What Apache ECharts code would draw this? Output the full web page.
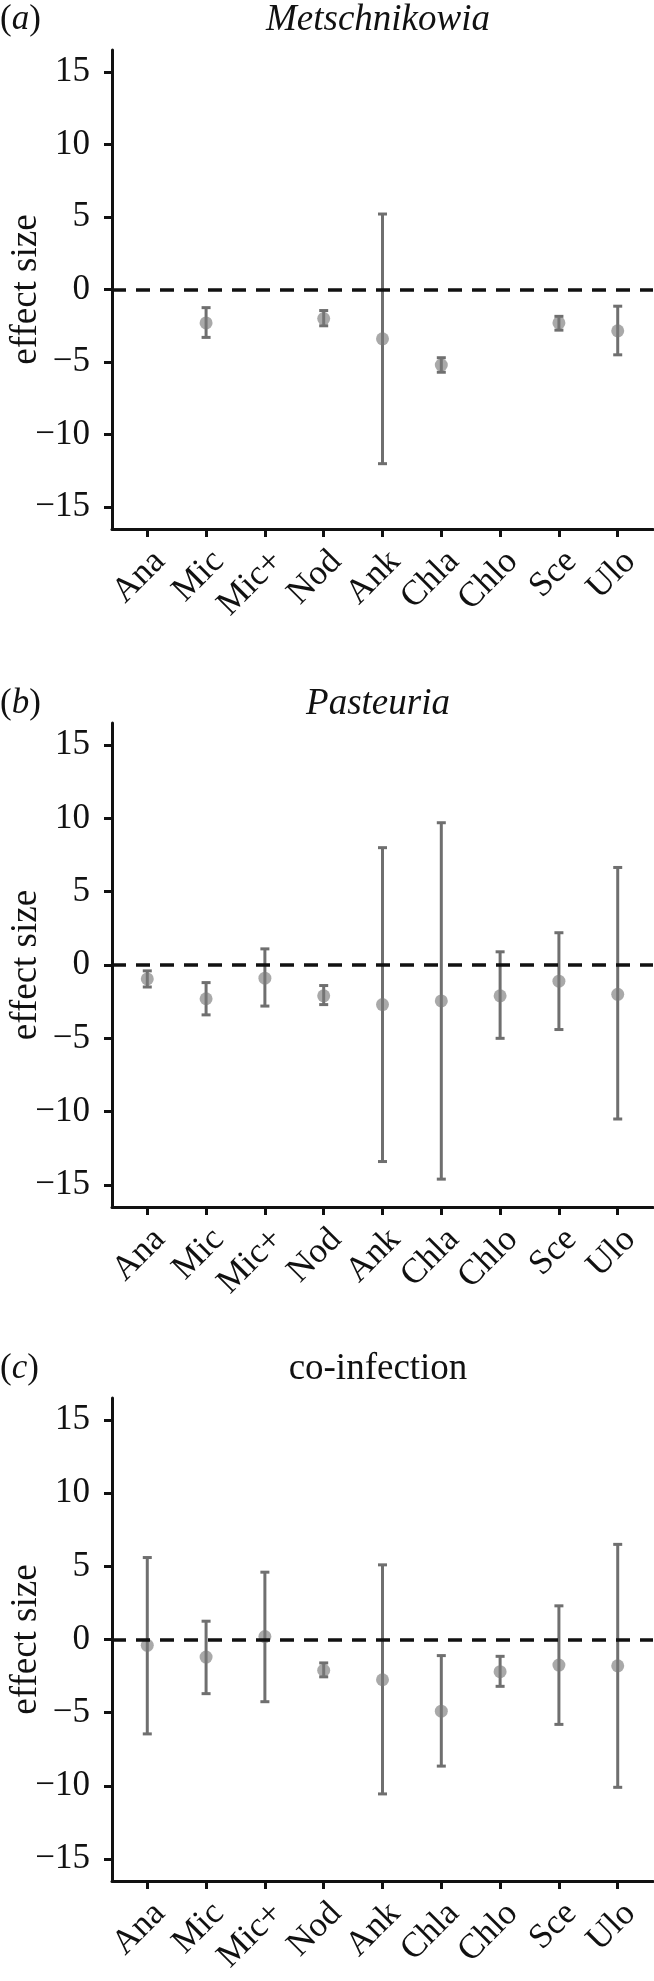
<!DOCTYPE html>
<html>
<head>
<meta charset="utf-8">
<script src="https://cdn.jsdelivr.net/npm/echarts@6/dist/echarts.min.js"></script>
<style>
html,body{margin:0;padding:0;background:#fff;}
#chart{width:654px;height:1981px;}
</style>
</head>
<body>
<div id="chart"></div>
<script>
// ---- data ----
const categories = ['Ana','Mic','Mic+','Nod','Ank','Chla','Chlo','Sce','Ulo'];
const yTicks = [-15,-10,-5,0,5,10,15];

const metMean = [null,-2.3,null,-2.0,-3.4,-5.2,null,-2.3,-2.85];
const metLow  = [null,-3.3,null,-2.5,-12.0,-5.7,null,-2.8,-4.5];
const metHigh = [null,-1.25,null,-1.45,5.2,-4.7,null,-1.85,-1.15];

const pasMean = [-0.95,-2.3,-0.9,-2.1,-2.7,-2.45,-2.1,-1.1,-2.0];
const pasLow  = [-1.5,-3.4,-2.8,-2.7,-13.4,-14.6,-5.0,-4.4,-10.5];
const pasHigh = [-0.4,-1.2,1.1,-1.4,8.0,9.7,0.9,2.2,6.65];

const coMean = [-0.4,-1.2,0.2,-2.1,-2.75,-4.9,-2.2,-1.75,-1.8];
const coLow  = [-6.45,-3.7,-4.25,-2.55,-10.55,-8.65,-3.2,-5.8,-10.1];
const coHigh = [5.6,1.25,4.6,-1.6,5.1,-1.1,-1.15,2.3,6.5];

const panelLetters = ['a','b','c'];
const panelTitles = ['Metschnikowia','Pasteuria','co-infection'];
const yAxisName = 'effect size';

// ---- layout ----
const FONT = '"Liberation Serif","DejaVu Serif",serif';
const panels = [
  {mean: metMean, low: metLow, high: metHigh, top: 50, height: 479, titleTop: 2, italic: true},
  {mean: pasMean, low: pasLow, high: pasHigh, top: 723, height: 484, titleTop: 686, italic: true},
  {mean: coMean, low: coLow, high: coHigh, top: 1398, height: 483, titleTop: 1351, italic: false}
];
const idx = categories.map((c, i) => i);

function renderBar(params, api) {
  const x = api.value(0), lo = api.value(1), hi = api.value(2);
  const p1 = api.coord([x, lo]), p2 = api.coord([x, hi]);
  const w = 4.5;
  const style = {stroke: '#6f6f6f', lineWidth: 3};
  return {type: 'group', children: [
    {type: 'line', shape: {x1: p1[0], y1: p1[1], x2: p2[0], y2: p2[1]}, style: style},
    {type: 'line', shape: {x1: p1[0] - w, y1: p1[1], x2: p1[0] + w, y2: p1[1]}, style: style},
    {type: 'line', shape: {x1: p2[0] - w, y1: p2[1], x2: p2[0] + w, y2: p2[1]}, style: style}
  ]};
}

const grids = [], xAxes = [], yAxes = [], series = [], titles = [];
panels.forEach((p, k) => {
  grids.push({left: 112, right: 1, top: p.top, height: p.height, containLabel: false, outerBoundsMode: 'none'});
  xAxes.push({
    type: 'value', gridIndex: k, min: -0.6, max: 8.6,
    splitLine: {show: false},
    axisLine: {show: true, onZero: false, lineStyle: {color: '#111', width: 3}},
    axisTick: {show: true, length: 8, customValues: idx, lineStyle: {color: '#111', width: 3}},
    axisLabel: {
      customValues: idx, rotate: 45, margin: 15, align: 'right', verticalAlign: 'top',
      fontFamily: FONT, fontSize: 35, color: '#111',
      formatter: v => categories[Math.round(v)]
    }
  });
  yAxes.push({
    type: 'value', gridIndex: k, min: -16.5, max: 16.5,
    name: yAxisName, nameLocation: 'middle', nameGap: 67, nameRotate: 90,
    nameMoveOverlap: false,
    nameTextStyle: {fontFamily: FONT, fontSize: 37, color: '#111'},
    splitLine: {show: false},
    axisLine: {show: true, onZero: false, lineStyle: {color: '#111', width: 3}},
    axisTick: {show: true, length: 8, customValues: yTicks, lineStyle: {color: '#111', width: 3}},
    axisLabel: {
      customValues: yTicks, margin: 22,
      fontFamily: FONT, fontSize: 35, color: '#111',
      formatter: v => (v < 0 ? '\u2212' + Math.abs(v) : String(v))
    }
  });
  const barData = [], ptData = [];
  categories.forEach((c, i) => {
    if (p.mean[i] !== null) {
      barData.push([i, p.low[i], p.high[i]]);
      ptData.push([i, p.mean[i]]);
    }
  });
  series.push({
    type: 'custom', xAxisIndex: k, yAxisIndex: k,
    renderItem: renderBar, data: barData, encode: {x: 0, y: [1, 2]}, z: 3
  });
  series.push({
    type: 'scatter', xAxisIndex: k, yAxisIndex: k, data: ptData,
    symbol: 'circle', symbolSize: 13,
    itemStyle: {color: 'rgba(120,120,120,0.8)'}, z: 4,
    markLine: {
      silent: true, symbol: 'none', label: {show: false},
      lineStyle: {color: '#111', width: 3.5, type: [14, 10]},
      data: [{yAxis: 0}], z: 5
    }
  });
  titles.push({
    text: '{p|(}{i|' + panelLetters[k] + '})' ,
    left: 0, top: p.titleTop, padding: 0,
    textStyle: {fontFamily: FONT, fontSize: 35, color: '#111', fontWeight: 'normal',
      rich: {
        p: {fontFamily: FONT, fontSize: 35, color: '#111', fontWeight: 'normal'},
        i: {fontFamily: FONT, fontSize: 35, color: '#111', fontWeight: 'normal', fontStyle: 'italic'}
      }}
  });
  titles.push({
    text: panelTitles[k], left: 378, textAlign: 'center', top: p.titleTop, padding: 0,
    textStyle: {fontFamily: FONT, fontSize: 37, color: '#111', fontWeight: 'normal',
      fontStyle: p.italic ? 'italic' : 'normal'}
  });
});

const chart = echarts.init(document.getElementById('chart'), null, {renderer: 'canvas'});
chart.setOption({
  animation: false,
  backgroundColor: '#fff',
  title: titles,
  grid: grids,
  xAxis: xAxes,
  yAxis: yAxes,
  series: series
});
</script>
</body>
</html>
